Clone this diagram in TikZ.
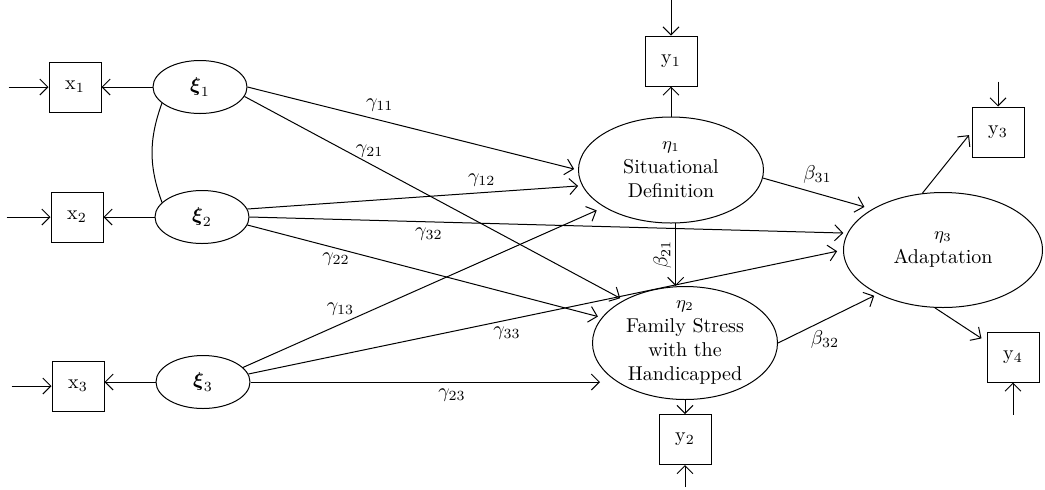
\documentclass[tikz,border=0pt]{standalone}
\usepackage{amsmath}
\usepackage{amssymb}
\usetikzlibrary{shapes.geometric, arrows.meta, positioning, calc}
\tikzstyle{manifest} = [rectangle, draw=black, minimum width=26pt, minimum height=25pt, inner sep=0pt]
\tikzstyle{exo} = [ellipse, draw=black, minimum width=47pt, minimum height=26.5pt, inner sep=0pt]
\tikzstyle{endo} = [ellipse, draw=black, inner sep=-4pt, align=center, text centered]
\tikzstyle{arrow} = [->, >={Straight Barb[length=4pt,width=8pt]}, line width=0.5pt]
\tikzstyle{coef} = [inner sep=1pt]

\begin{document}
\begin{tikzpicture}[x=0.5pt, y=-0.5pt, line width=0.5pt]
    \useasboundingbox (0,0) rectangle (1045,489);
    % latente exogene Variablen
    \node (xi1) [exo] at (200,87) {$\boldsymbol{\xi}_1$};
    \node (xi2) [exo] at (202,217) {$\boldsymbol{\xi}_2$};
    \node (xi3) [exo] at (203,382) {$\boldsymbol{\xi}_3$};
    \node (x1) [manifest, left=25.5pt of xi1] {$\mathrm{x}_1$};
    \node (x2) [manifest, left=25.5pt of xi2] {$\mathrm{x}_2$};
    \node (x3) [manifest, left=25.5pt of xi3, yshift=-2pt] {$\mathrm{x}_3$};

    % latente endogene Variablen
    \node (eta1) [endo, minimum width=92.5pt, minimum height=53pt] at (671,170)
        {{\small$\eta_1$}\\Situational\\Definition};
    \node (eta2) [endo, minimum width=92.5pt, minimum height=56.5pt] at (685,343)
        {{\small$\eta_2$}\\Family Stress\\with the\\Handicapped};
    \node (eta3) [endo, minimum width=99.5pt, minimum height=57.5pt] at (943,250)
        {{\small$\eta_3$}\\Adaptation};
    \node (y1) [manifest, above=15pt of eta1] {$\mathrm{y}_1$};
    \node (y2) [manifest, below=7pt of eta2] {$\mathrm{y}_2$};
    \node (y3) [manifest] at (998,132) {$\mathrm{y}_3$};
    \node (y4) [manifest] at (1013,357) {$\mathrm{y}_4$};

    % Fehlerterme
    \coordinate [left=20pt of x1] (d1);
    \coordinate [left=22pt of x2] (d2);
    \coordinate [left=20pt of x3] (d3);
    \coordinate [above=18pt of y1] (e1);
    \coordinate [below=11pt of y2] (e2);
    \coordinate [above=12.5pt of y3] (e3);
    \coordinate [below=16pt of y4] (e4);
    \draw [arrow] (d1) -- (x1);
    \draw [arrow] (d2) -- (x2);
    \draw [arrow] (d3) -- (x3);
    \draw [arrow] (e1) -- (y1);
    \draw [arrow] (e2) -- (y2);
    \draw [arrow] (e3) -- (y3);
    \draw [arrow] (e4) -- (y4);

    % Messmodell
    \draw [arrow] (xi1) -- (x1);
    \draw [arrow] (xi2) -- (x2);
    \draw [arrow] (xi3.west) -- (xi3.west -| x3.east);
    \draw [arrow] (eta1) -- (y1);
    \draw [arrow] (eta2) -- (y2);
    \draw [arrow, shorten >=2pt] (eta3.110) -- (y3.west);
    \draw [arrow, shorten >=3pt] (eta3.262) -- (y4.150);
    \draw (xi1.203) to[bend right=20] (xi2.160);

    % Strukturmodell
    \draw [arrow, shorten >=2pt] (xi1.east) -- node (g11) [coef, pos=0.4, above=3pt] {$\gamma_{11}$} (eta1.west);
    \draw [arrow, shorten >=2pt] (xi1.-12) -- node (g21) [coef, pos=0.33, above=2pt] {$\gamma_{21}$} (eta2.145);
    \draw [arrow, shorten >=2pt] (xi2.10) -- node (g12) [coef, pos=0.7, above=2pt] {$\gamma_{12}$} (eta1.190);
    \draw [arrow, shorten >=2pt] (xi2.east) -- node (g32) [coef, pos=0.3, below=2pt] {$\gamma_{32}$} (eta3.170);
    \draw [arrow, shorten >=2pt] (xi2.-10) -- node (g22) [coef, pos=0.25, below=1pt] {$\gamma_{22}$} (eta2.163);
    \draw [arrow, shorten >=4pt] (xi3.20) -- node (g13) [coef, pos=0.27, above=3pt] {$\gamma_{13}$} (eta1.209);
    \draw [arrow, shorten >=3pt] (xi3.10) -- node (g33) [coef, pos=0.435, below=2pt] {$\gamma_{33}$} (eta3.180);
    \draw [arrow, shorten >=-4pt] (xi3.east) -- node (g23) [coef, pos=0.59, below=2pt] {$\gamma_{23}$} (xi3.east -| eta2.west);
    \draw [arrow] (eta1.-85) -- node (b21) [coef, left=1pt, rotate=90, anchor=south] {$\beta_{21}$} (eta1.-85 |- eta2.north);
    \draw [arrow, shorten >=4pt] (eta1.-5) -- node (b31) [coef, pos=0.5, above=4pt] {$\beta_{31}$} (eta3.150);
    \draw [arrow, shorten >=2pt] (eta2.east) -- node (b32) [coef, pos=0.47, below=4pt] {$\beta_{32}$} (eta3.214);
\end{tikzpicture}
\end{document}
